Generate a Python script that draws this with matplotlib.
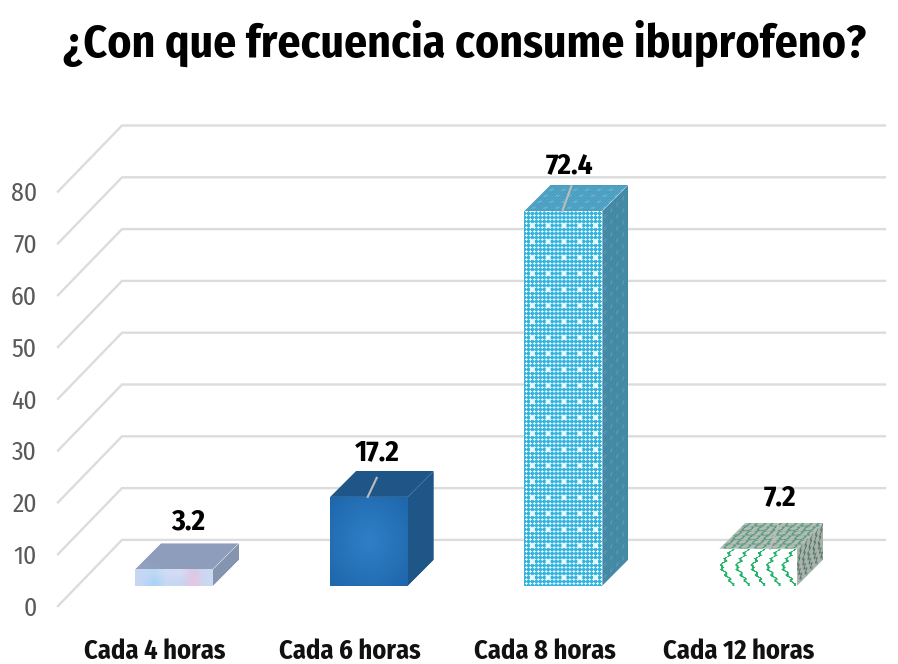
import numpy as np
import matplotlib
matplotlib.use("Agg")
import matplotlib.pyplot as plt
from matplotlib.patches import Polygon
from matplotlib.transforms import Affine2D
from matplotlib import font_manager

titulo = "¿Con que frecuencia consume ibuprofeno?"
categorias = ["Cada 4 horas", "Cada 6 horas", "Cada 8 horas", "Cada 12 horas"]
valores = [3.2, 17.2, 72.4, 7.2]
ticks = [0, 10, 20, 30, 40, 50, 60, 70, 80]

# escala: 194.7 px por categoria, 5.18 px por unidad
W, H = 898, 664
px_x, px_y = 194.7, 5.18
x0_px, y0_px = 174, 586

nombres = {f.name for f in font_manager.fontManager.ttflist}
fuente = "Fira Sans Condensed" if "Fira Sans Condensed" in nombres else "Lato"

fig = plt.figure(figsize=(W / 100, H / 100), dpi=100, facecolor="white")
ax = fig.add_axes([0, 0, 1, 1])


def hexrgb(c):
    return np.array(matplotlib.colors.to_rgb(c))


def lleno(c, h=4, w=4):
    return np.ones((h, w, 3)) * hexrgb(c)


def cara(tex, p0, ux, uy, zorder=3):
    # textura sobre un paralelogramo: p0 esquina, ux y uy los lados
    rgba = np.dstack([tex, np.ones(tex.shape[:2])])
    t = Affine2D.from_values(ux[0], ux[1], uy[0], uy[1], p0[0], p0[1]) + ax.transData
    im = ax.imshow(rgba, extent=(0, 1, 0, 1), origin="lower", transform=t, aspect="auto",
                   interpolation="bilinear", zorder=zorder)
    p0 = np.array(p0)
    ux, uy = np.array(ux), np.array(uy)
    borde = Polygon([p0, p0 + ux, p0 + ux + uy, p0 + uy], closed=True, transform=ax.transData)
    im.set_clip_path(borde)


def tex_manchas():
    cols = [["#c4d6f4", "#a9d4f6", "#c9d8f4", "#c6d6f2", "#e6c6e2", "#c9d9f4"],
            ["#c8d6f2", "#bcd8f6", "#d2dcf5", "#d4dcf4", "#dcc8e6", "#ccd8f2"]]
    return np.array([[hexrgb(c) for c in fila] for fila in cols])


def tex_radial(n=60):
    yy, xx = np.mgrid[0:n, 0:n] / (n - 1) - 0.5
    r = np.clip(np.hypot(xx, yy) / 0.7, 0, 1)[..., None]
    return hexrgb("#2f80c8") * (1 - r) + hexrgb("#1f66ab") * r


def tex_reticula(w, h, base, claro, paso=4, grande=16, punto=1.35):
    yy, xx = np.mgrid[0:h, 0:w]
    t = np.ones((h, w, 3)) * hexrgb(base)
    d = np.hypot((xx % paso) - paso / 2, (yy % paso) - paso / 2)
    t[d < punto] = hexrgb(claro)
    d2 = np.hypot((xx % grande) - grande / 2, (yy % grande) - grande / 2)
    t[d2 < 2.6] = hexrgb(claro)
    return t


def tex_zigzag(w, h, fondo, tinta, paso=15, grueso=1.3):
    yy, xx = np.mgrid[0:h, 0:w]
    t = np.ones((h, w, 3)) * hexrgb(fondo)
    fase = np.abs(((yy / h) % 1) * 2 - 1)
    onda = np.sin(yy * 1.1) * 1.3
    d = np.abs((xx % paso) - (paso / 2 + (fase - 0.5) * paso * 0.8 + onda))
    t[d < grueso] = hexrgb(tinta)
    return t


def tex_escamas(w, h, fondo, tinta, paso=15):
    yy, xx = np.mgrid[0:h, 0:w]
    t = np.ones((h, w, 3)) * hexrgb(fondo)
    fila = (yy // 9) % 2
    d = np.abs(np.hypot(((xx + fila * paso // 2) % paso) - paso / 2, (yy % 9) - 4.5) - 4.5)
    t[d < 0.7] = hexrgb(tinta)
    return t


estilos = [
    (tex_manchas(), lleno("#8f9fbe") * 0.5 + tex_reticula(4, 4, "#93a3c0", "#8b9bb8", 2, 4) * 0.5, lleno("#8595b0")),
    (tex_radial(), lleno("#1f5688"), lleno("#1f5688")),
    (tex_reticula(79, 376, "#35b4dd", "#e8f8fc"), tex_reticula(79, 52, "#3c93b8", "#66b2d0", 3, 12, 1.0),
     tex_reticula(52, 376, "#38809e", "#5596b0", 3, 12, 1.0)),
    (tex_zigzag(76, 38, "#ffffff", "#21b368"), tex_escamas(76, 52, "#b4bdb8", "#3a9068"),
     tex_zigzag(40, 38, "#a8b2ac", "#47705c", 8, 1.0)),
]

ancho = 78 / px_x
prof_x, prof_y = 26 / px_x, 26 / px_y
# piso del grafico respecto al plano frontal de las barras
piso_atras, piso_frente = 8.9, -3.86
izq_atras, izq_frente, der = (122 - x0_px) / px_x, (58 - x0_px) / px_x, (885 - x0_px) / px_x

for t in ticks:
    ax.plot([izq_frente, izq_atras, der], [t + piso_frente, t + piso_atras, t + piso_atras],
            color="#dcdcdc", lw=1.7, solid_joinstyle="miter", zorder=1)
    ax.text(-137 / px_x, t + piso_frente - 0.5, str(t), ha="right", va="center",
            fontsize=18.5, color="#595959", family=fuente)

for i, (v, est) in enumerate(zip(valores, estilos)):
    x1 = i - ancho / 2
    cara(est[0], (x1, 0), (ancho, 0), (0, v))
    cara(est[1], (x1, v), (ancho, 0), (prof_x, prof_y))
    cara(est[2], (x1 + ancho, 0), (prof_x, prof_y), (0, v))

# lineas guia y etiquetas de datos
guias = [None, (-1 / px_x, 0.0, 9 / px_x, 19 / px_y), (-1 / px_x, 0.0, 9 / px_x, 25 / px_y),
         (12 / px_x, 0.0, 8 / px_x, 23 / px_y)]
for i, (v, g) in enumerate(zip(valores, guias)):
    if g is not None:
        ax.plot([i + g[0], i + g[0] + g[2]], [v, v + g[3]], color="#bcbcbc", lw=1.5, zorder=4)

desp_x = [14, 9, 6, 22]
desp_y = [22, 18, 20, 25]
for i, v in enumerate(valores):
    ax.text(i + desp_x[i] / px_x, v + prof_y + desp_y[i] / px_y, str(v), ha="center", va="center",
            fontsize=21, fontweight="bold", color="black", family=fuente, zorder=5)

for i, c in enumerate(categorias):
    ax.text(i - 19 / px_x, -(651 - y0_px) / px_y, c, ha="center", va="center",
            fontsize=19, fontweight="bold", color="#111111", family=fuente)

ax.text((465 - x0_px) / px_x, (y0_px - 43) / px_y, titulo, ha="center", va="center",
        fontsize=32.8, fontweight="bold", color="black", family=fuente)

ax.set_xlim(-x0_px / px_x, (W - x0_px) / px_x)
ax.set_ylim(-(H - y0_px) / px_y, y0_px / px_y)
ax.axis("off")
fig.savefig("out.png", dpi=100, facecolor="white")
